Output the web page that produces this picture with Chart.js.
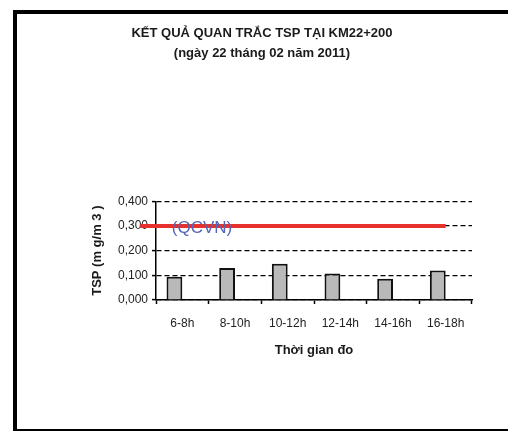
<!DOCTYPE html>
<html>
<head>
<meta charset="utf-8">
<script src="https://cdn.jsdelivr.net/npm/chart.js@4/dist/chart.umd.min.js"></script>
<style>
  html, body { margin: 0; padding: 0; background: #fff; }
  #wrap { position: relative; width: 508px; height: 432px; overflow: hidden; }
  #chart { position: absolute; left: 0; top: 0; }
  #frame {
    position: absolute; left: 13px; top: 10px; width: 500px; height: 421px;
    box-sizing: border-box; pointer-events: none;
    border-left: 4px solid #000; border-top: 4px solid #000; border-bottom: 2px solid #000;
  }
</style>
</head>
<body>
<div id="wrap">
  <canvas id="chart" width="508" height="432"></canvas>
  <div id="frame"></div>
</div>
<script>
// Measurement periods and TSP concentrations (mg/m3)
const categories = ['6-8h', '8-10h', '10-12h', '12-14h', '14-16h', '16-18h'];
const tspValues = [0.094, 0.130, 0.147, 0.107, 0.086, 0.120];
// Permitted limit from the national standard
const limitValue = 0.3;
const limitLabel = '(QCVN)';
const yTicks = [0, 0.1, 0.2, 0.3, 0.4];
const titleLines = ['KẾT QUẢ QUAN TRẮC TSP TẠI KM22+200', '(ngày 22 tháng 02 năm 2011)'];
const xTitle = 'Thời gian đo';
const yTitle = 'TSP (m g/m 3 )';

const FONT = '"Liberation Sans", Arial, sans-serif';

// Limit line spans from just left of the axis to the centre of the last period
const limitPoints = [
  { x: -0.3, y: limitValue },
  { x: categories.length - 0.5, y: limitValue }
];

// Writes the standard's name next to the limit line
const limitLabelPlugin = {
  id: 'limitLabel',
  afterDatasetsDraw(chart) {
    const x2 = chart.scales.x2, y = chart.scales.y;
    const ctx = chart.ctx;
    ctx.save();
    ctx.font = '17px ' + FONT;
    ctx.fillStyle = '#5565b8';
    ctx.textAlign = 'left';
    ctx.textBaseline = 'middle';
    ctx.fillText(limitLabel, x2.getPixelForValue(0.3), y.getPixelForValue(limitValue) + 2.5);
    ctx.restore();
  }
};

new Chart(document.getElementById('chart'), {
  type: 'bar',
  data: {
    labels: categories,
    datasets: [
      {
        type: 'bar',
        data: tspValues,
        backgroundColor: '#b9b9b9',
        borderColor: '#111',
        borderWidth: 2,
        borderSkipped: 'bottom',
        barPercentage: 1,
        categoryPercentage: 0.6,
        xAxisID: 'x',
        yAxisID: 'y',
        order: 2
      },
      {
        type: 'line',
        data: limitPoints,
        xAxisID: 'x2',
        yAxisID: 'y',
        borderColor: '#e8302c',
        borderWidth: 4,
        pointRadius: 0,
        tension: 0,
        clip: false,
        order: 1
      }
    ]
  },
  options: {
    responsive: false,
    animation: false,
    devicePixelRatio: 1,
    layout: { padding: { left: 52, right: 36, top: 0, bottom: 74 } },
    plugins: {
      legend: { display: false },
      tooltip: { enabled: false },
      title: {
        display: true,
        text: titleLines,
        color: '#1a1a1a',
        font: { family: FONT, size: 13, weight: 'bold', lineHeight: 1.55 },
        padding: { top: 23, bottom: 138 }
      }
    },
    scales: {
      x: {
        type: 'category',
        offset: true,
        grid: {
          display: true, offset: true, drawOnChartArea: false, drawTicks: true,
          tickLength: 4, tickColor: '#000', tickWidth: 1.5
        },
        border: { display: true, color: '#000', width: 1.5 },
        ticks: { padding: 12, color: '#222', font: { family: FONT, size: 12 } },
        title: {
          display: true, text: xTitle, color: '#1a1a1a',
          font: { family: FONT, size: 13, weight: 'bold' },
          padding: { top: 0, bottom: 0 }
        }
      },
      x2: {
        type: 'linear', display: false, offset: false,
        min: 0, max: categories.length,
        grid: { offset: false }
      },
      y: {
        min: 0,
        max: 0.4,
        afterBuildTicks(scale) { scale.ticks = yTicks.map(v => ({ value: v })); },
        afterFit(scale) { scale.width = 104; },
        ticks: {
          padding: 4, color: '#222', font: { family: FONT, size: 12 },
          callback: v => Number(v).toFixed(3).replace('.', ',')
        },
        grid: {
          color: '#000', lineWidth: 1.2, drawTicks: true, tickLength: 4,
          tickColor: '#000', tickWidth: 1.5, tickBorderDash: []
        },
        border: { display: true, color: '#000', width: 1.5, dash: [5, 3] },
        title: {
          display: true, text: yTitle, color: '#1a1a1a',
          font: { family: FONT, size: 13, weight: 'bold' },
          padding: { top: 38, bottom: 0 }
        }
      }
    }
  },
  plugins: [limitLabelPlugin]
});
</script>
</body>
</html>
